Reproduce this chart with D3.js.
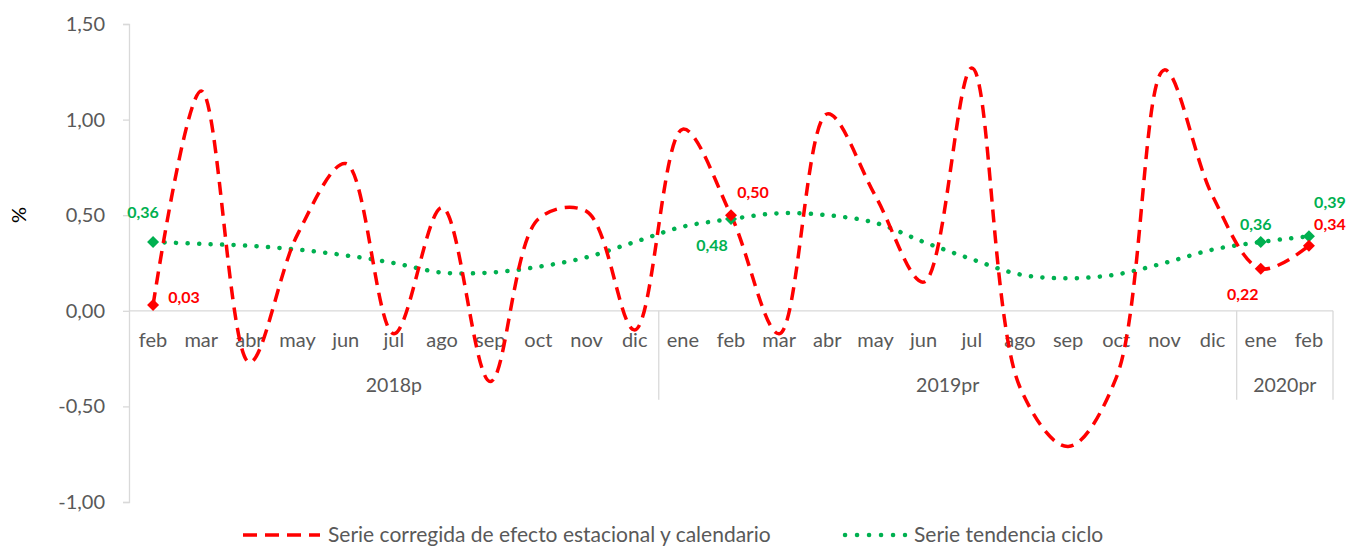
<!DOCTYPE html>
<html>
<head>
<meta charset="utf-8">
<script src="https://cdn.jsdelivr.net/npm/d3@7"></script>
<style>
  body { margin: 0; background: #fff; }
  svg { font-family: Lato, "Open Sans", sans-serif; }
</style>
</head>
<body>
<svg id="chart" width="1348" height="548"></svg>
<script>
// months shown on the category axis
var months = ["feb","mar","abr","may","jun","jul","ago","sep","oct","nov","dic",
              "ene","feb","mar","abr","may","jun","jul","ago","sep","oct","nov","dic",
              "ene","feb"];
var years = [
  {label: "2018p", from: 0, to: 10},
  {label: "2019pr", from: 11, to: 22},
  {label: "2020pr", from: 23, to: 24}
];
var corregida = [0.03, 1.15, -0.27, 0.40, 0.77, -0.12, 0.54, -0.37, 0.48, 0.52, -0.10,
                 0.95, 0.50, -0.12, 1.03, 0.60, 0.15, 1.27, -0.40, -0.71, -0.35, 1.26, 0.60,
                 0.22, 0.34];
var tendencia = [0.36, 0.35, 0.34, 0.32, 0.29, 0.25, 0.20, 0.20, 0.23, 0.28, 0.36,
                 0.44, 0.48, 0.51, 0.50, 0.46, 0.36, 0.27, 0.19, 0.17, 0.19, 0.25, 0.32,
                 0.36, 0.39];
var yTicks = [-1, -0.5, 0, 0.5, 1, 1.5];
// points that carry a marker and a value label
var labelled = [0, 12, 23, 24];

var red = "#FF0000", green = "#00B050", axisGrey = "#D9D9D9", textGrey = "#595959";
var fmt = function(v){ return d3.format(".2f")(v).replace(".", ",").replace("\u2212", "-"); };

var svg = d3.select("#chart");
var plotL = 129, plotR = 1333, plotT = 24, plotB = 502;

var x = d3.scaleBand().domain(d3.range(months.length)).range([plotL, plotR]);
var y = d3.scaleLinear().domain([-1, 1.5]).range([plotB, plotT]);
var cx = function(i){ return x(i) + x.bandwidth() / 2; };

// y axis
var yAxis = svg.append("g")
  .attr("transform", "translate(" + plotL + ",0)")
  .call(d3.axisLeft(y).tickValues(yTicks).tickFormat(fmt).tickSize(6).tickPadding(18));
yAxis.select(".domain").attr("stroke", axisGrey).attr("stroke-width", 1.3);
yAxis.selectAll(".tick line").attr("stroke", axisGrey).attr("stroke-width", 1.3);
yAxis.selectAll(".tick text").attr("fill", textGrey).style("font-size", "20px")
  .style("font-family", "Lato, sans-serif");

svg.append("text")
  .attr("transform", "translate(26,215) rotate(-90)")
  .attr("text-anchor", "middle")
  .attr("fill", "#000")
  .style("font-size", "20px")
  .text("%");

// category axis at zero
svg.append("line")
  .attr("x1", plotL).attr("x2", plotR)
  .attr("y1", y(0)).attr("y2", y(0))
  .attr("stroke", axisGrey).attr("stroke-width", 1.3);

svg.selectAll(".month")
  .data(months)
  .enter().append("text")
  .attr("class", "month")
  .attr("x", function(d, i){ return cx(i); })
  .attr("y", y(0) + 36)
  .attr("text-anchor", "middle")
  .attr("fill", textGrey)
  .style("font-size", "20px")
  .text(function(d){ return d; });

// group separators
var seps = [years[1].from, years[2].from, months.length];
svg.selectAll(".sep")
  .data(seps)
  .enter().append("line")
  .attr("x1", function(d){ return d < months.length ? x(d) : plotR; })
  .attr("x2", function(d){ return d < months.length ? x(d) : plotR; })
  .attr("y1", y(0)).attr("y2", y(0) + 89)
  .attr("stroke", axisGrey).attr("stroke-width", 1.3);

svg.selectAll(".year")
  .data(years)
  .enter().append("text")
  .attr("x", function(d){ return (x(d.from) + x(d.to) + x.bandwidth()) / 2; })
  .attr("y", y(0) + 81)
  .attr("text-anchor", "middle")
  .attr("fill", textGrey)
  .style("font-size", "19.5px")
  .text(function(d){ return d.label; });

// lines
var line = d3.line()
  .x(function(d, i){ return cx(i); })
  .y(function(d){ return y(d); })
  .curve(d3.curveCatmullRom.alpha(0.5));

svg.append("path")
  .datum(tendencia)
  .attr("d", line)
  .attr("fill", "none")
  .attr("stroke", green)
  .attr("stroke-width", 4.5)
  .attr("stroke-linecap", "round")
  .attr("stroke-dasharray", "0.1 11.4");

svg.append("path")
  .datum(corregida)
  .attr("d", line)
  .attr("fill", "none")
  .attr("stroke", red)
  .attr("stroke-width", 3.5)
  .attr("stroke-dasharray", "13 8");

// markers (square turned 45 degrees)
var diamond = d3.symbol().type(d3.symbolSquare).size(72);
function markers(values, color) {
  svg.selectAll(null)
    .data(labelled)
    .enter().append("path")
    .attr("d", diamond)
    .attr("transform", function(i){ return "translate(" + cx(i) + "," + y(values[i]) + ") rotate(45)"; })
    .attr("fill", color);
}
markers(tendencia, green);
markers(corregida, red);

// value labels, offsets from the point
var greenOffsets = [[-10, -30], [-19, 26], [-5, -18], [21, -34]];
var redOffsets = [[31, -8], [22, -23], [-18, 26], [21, -21]];
function valueLabels(values, color, offs) {
  svg.selectAll(null)
    .data(labelled)
    .enter().append("text")
    .attr("x", function(i, k){ return cx(i) + offs[k][0]; })
    .attr("y", function(i, k){ return y(values[i]) + offs[k][1]; })
    .attr("dy", "0.35em")
    .attr("text-anchor", "middle")
    .attr("fill", color)
    .style("font-size", "16px")
    .style("font-weight", "bold")
    .text(function(i){ return fmt(values[i]); });
}
valueLabels(tendencia, green, greenOffsets);
valueLabels(corregida, red, redOffsets);

// legend
var leg = svg.append("g").attr("transform", "translate(0,535)");
leg.append("line").attr("x1", 243).attr("x2", 320).attr("y1", 0).attr("y2", 0)
  .attr("stroke", red).attr("stroke-width", 3.5).attr("stroke-dasharray", "14 8");
leg.append("text").attr("x", 328).attr("y", 0).attr("dy", "0.35em")
  .attr("fill", textGrey).style("font-size", "21px")
  .text("Serie corregida de efecto estacional y calendario");
leg.append("line").attr("x1", 845).attr("x2", 905).attr("y1", 0).attr("y2", 0)
  .attr("stroke", green).attr("stroke-width", 4.5).attr("stroke-linecap", "round")
  .attr("stroke-dasharray", "0.1 11.9");
leg.append("text").attr("x", 914).attr("y", 0).attr("dy", "0.35em")
  .attr("fill", textGrey).style("font-size", "21px")
  .text("Serie tendencia ciclo");
</script>
</body>
</html>
